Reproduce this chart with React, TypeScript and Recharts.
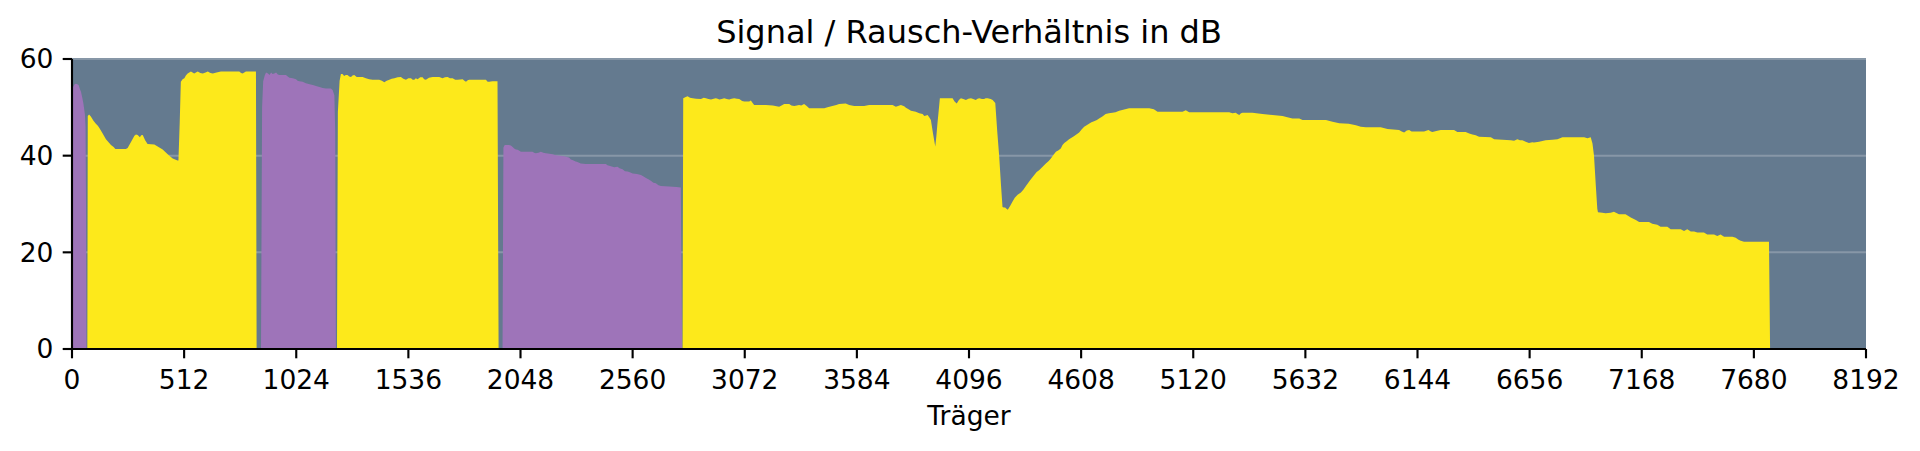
import { Area, CartesianGrid, ComposedChart, XAxis, YAxis } from "recharts";

const xTicks = [
  0, 512, 1024, 1536, 2048, 2560, 3072, 3584, 4096, 4608, 5120, 5632, 6144,
  6656, 7168, 7680, 8192,
];
const yTicks = [0, 20, 40, 60];

// Downstream bands (yellow): carrier index and SNR in dB
const downCarriers = [
  70, 72, 78, 86, 98, 109, 118, 125, 140, 155, 167, 178, 190, 198, 246, 254,
  270, 285, 292, 300, 310, 316, 323, 334, 345, 376, 395, 414, 437, 450, 460,
  482, 486, 492, 497, 505, 513, 520, 528, 543, 558, 574, 586, 597, 610, 620,
  632, 643, 660, 680, 764, 772, 779, 794, 840, 843,
  1210, 1214, 1222, 1228, 1235, 1243, 1250, 1258, 1266, 1274, 1281, 1289, 1300,
  1312, 1327, 1342, 1357, 1373, 1403, 1415, 1426, 1437, 1449, 1460, 1472, 1487,
  1502, 1513, 1525, 1536, 1548, 1556, 1563, 1570, 1578, 1590, 1601, 1608, 1616,
  1630, 1647, 1677, 1692, 1703, 1715, 1726, 1738, 1750, 1761, 1784, 1792, 1799,
  1807, 1814, 1890, 1898, 1905, 1920, 1943, 1948,
  2788, 2791, 2800, 2811, 2822, 2834, 2850, 2872, 2885, 2895, 2906, 2918, 2930,
  2940, 2948, 2956, 2967, 2978, 2990, 3001, 3012, 3024, 3036, 3047, 3060, 3070,
  3092, 3100, 3108, 3115, 3168, 3200, 3229, 3240, 3252, 3275, 3285, 3298, 3310,
  3320, 3330, 3343, 3355, 3366, 3435, 3450, 3472, 3490, 3503, 3533, 3549, 3572,
  3595, 3617, 3640, 3747, 3762, 3785, 3800, 3808, 3820, 3831, 3853, 3869, 3884,
  3892, 3900, 3907, 3915, 3922, 3932, 3942, 3947, 3952, 3958, 3963, 4021, 4030,
  4040, 4050, 4059, 4070, 4082, 4093, 4105, 4115, 4127, 4135, 4143, 4155, 4165,
  4172, 4181, 4195, 4204, 4216, 4225, 4234, 4242, 4249, 4255, 4261, 4267, 4273,
  4285, 4295, 4305, 4318, 4333, 4345, 4356, 4375, 4394, 4405, 4416, 4430, 4447,
  4460, 4470, 4482, 4493, 4505, 4515, 4523, 4531, 4542, 4553, 4575, 4599, 4610,
  4622, 4633, 4644, 4655, 4667, 4680, 4690, 4705, 4720, 4735, 4751, 4765, 4782,
  4800, 4827, 4919, 4940, 4957, 5071, 5086, 5101, 5200, 5284, 5299, 5314, 5322,
  5330, 5338, 5345, 5390, 5436, 5482, 5528, 5545, 5573, 5604, 5619, 5726, 5756,
  5787, 5830, 5863, 5885, 5908, 5976, 6007, 6060, 6072, 6083, 6095, 6106, 6117,
  6128, 6174, 6194, 6205, 6212, 6230, 6250, 6311, 6326, 6364, 6380, 6395, 6410,
  6425, 6479, 6494, 6570, 6585, 6600, 6612, 6623, 6638, 6653, 6668, 6676, 6699,
  6729, 6760, 6783, 6806, 6905, 6920, 6935, 6943, 6950, 6958, 6965, 6968, 6988,
  7003, 7026, 7041, 7064, 7094, 7118, 7141, 7156, 7201, 7216, 7239, 7254, 7285,
  7300, 7346, 7361, 7376, 7392, 7407, 7422, 7452, 7467, 7498, 7513, 7528, 7544,
  7582, 7597, 7610, 7620, 7635, 7749, 7754,
];
const downSnr = [
  0, 48.2, 48.5, 48.1, 47.2, 46.6, 46.2, 45.7, 44.6, 43.4, 42.8, 42.2, 41.8,
  41.4, 41.4, 41.6, 42.9, 44.1, 44.4, 44.3, 43.8, 44.2, 44.3, 43.2, 42.4, 42.3,
  41.8, 41.3, 40.3, 39.8, 39.4, 39.0, 39.0, 47.0, 55.3, 55.8, 56.0, 56.6, 57.0,
  57.4, 57.0, 57.4, 57.1, 57.0, 57.2, 57.4, 57.1, 57.0, 57.2, 57.4, 57.4, 57.1,
  57.0, 57.4, 57.4, 0,
  0, 49, 55.5, 56.9, 56.9, 56.5, 56.7, 56.7, 56.4, 56.3, 56.6, 56.7, 56.3, 56.3,
  56.3, 56.0, 55.8, 55.7, 55.7, 55.5, 55.2, 55.5, 55.7, 55.9, 56.0, 56.2, 56.3,
  55.9, 55.7, 56.0, 56.0, 55.7, 55.7, 56.0, 55.8, 56.2, 56.2, 55.8, 55.7, 56.1,
  56.3, 56.3, 56.0, 56.2, 56.3, 56.0, 56.0, 55.7, 55.7, 55.8, 55.5, 55.3, 55.6,
  55.7, 55.7, 55.3, 55.3, 55.4, 55.4, 0,
  0, 51.9, 52.1, 52.3, 52.0, 51.9, 51.8, 51.7, 52.0, 51.9, 51.7, 51.6, 51.8,
  51.9, 51.8, 51.6, 51.7, 51.9, 51.7, 51.6, 51.8, 51.9, 51.8, 51.7, 51.3, 51.2,
  51.2, 51.4, 50.9, 50.5, 50.5, 50.4, 50.1, 50.4, 50.7, 50.7, 50.4, 50.3, 50.4,
  50.5, 50.4, 50.7, 50.3, 49.8, 49.8, 50.0, 50.3, 50.5, 50.7, 50.8, 50.5, 50.3,
  50.3, 50.3, 50.5, 50.5, 50.1, 50.5, 50.2, 49.9, 49.6, 49.3, 49.1, 48.8, 48.6,
  48.2, 48.3, 48.4, 47.9, 47.4, 44.5, 41.9, 44.0, 46.7, 49.5, 51.9, 51.9, 51.2,
  50.8, 51.5, 51.9, 51.7, 51.5, 51.8, 51.9, 51.7, 51.5, 51.8, 51.9, 51.7, 51.7,
  51.9, 51.9, 51.7, 51.5, 50.9, 45.0, 39.8, 34.0, 29.4, 29.3, 29.3, 29.0, 28.8,
  29.7, 30.5, 31.3, 31.9, 32.4, 33.0, 33.7, 34.9, 36.0, 36.6, 37.0, 37.6, 38.4,
  38.9, 39.4, 40.2, 40.8, 41.1, 41.5, 42.2, 42.6, 43.0, 43.4, 44.0, 44.8, 45.4,
  46.0, 46.3, 46.6, 46.9, 47.1, 47.4, 47.7, 48.1, 48.6, 48.8, 48.9, 49.0, 49.3,
  49.5, 49.8, 49.8, 49.6, 49.1, 49.1, 49.4, 49.0, 49.0, 49.0, 48.8, 48.9, 48.6,
  48.4, 48.8, 48.9, 48.9, 48.6, 48.4, 48.2, 48.0, 47.7, 47.7, 47.4, 47.4, 47.0,
  46.7, 46.6, 46.3, 46.0, 45.9, 45.9, 45.5, 45.3, 45.0, 44.8, 45.2, 45.3, 45.0,
  45.0, 45.0, 45.3, 45.0, 44.9, 45.1, 45.3, 45.3, 44.9, 44.9, 44.6, 44.4, 44.2,
  43.9, 43.8, 43.4, 43.2, 43.1, 43.4, 43.2, 43.2, 42.9, 42.6, 42.8, 42.7, 42.9,
  43.2, 43.3, 43.4, 43.8, 43.8, 43.6, 43.8, 42.5, 40.0, 34.0, 29.0, 28.3, 28.2,
  28.1, 28.2, 28.4, 27.9, 27.9, 27.2, 26.7, 26.3, 26.3, 25.9, 25.7, 25.3, 25.3,
  24.8, 24.8, 24.4, 24.8, 24.3, 24.3, 24.1, 24.1, 23.7, 23.7, 23.4, 23.7, 23.2,
  23.2, 23.0, 22.6, 22.4, 22.2, 22.2, 0,
];

// Upstream bands (purple)
const upCarriers = [
  0, 6, 12, 18, 24, 30, 36, 41, 47, 52, 56, 59, 62, 64, 66,
  863, 868, 873, 880, 886, 895, 902, 909, 916, 924, 932, 940, 947, 960, 977,
  985, 993, 1008, 1023, 1030, 1038, 1053, 1068, 1085, 1100, 1114, 1130, 1145,
  1160, 1182, 1190, 1198, 1202, 1205,
  1966, 1970, 1976, 1982, 1995, 2004, 2012, 2019, 2027, 2035, 2050, 2080, 2103,
  2110, 2118, 2130, 2141, 2152, 2164, 2180, 2194, 2209, 2230, 2247, 2260, 2270,
  2278, 2285, 2300, 2308, 2323, 2346, 2438, 2445, 2453, 2476, 2491, 2500, 2514,
  2525, 2537, 2550, 2560, 2580, 2598, 2610, 2621, 2632, 2643, 2655, 2666, 2678,
  2689, 2727, 2760, 2780, 2786,
];
const upSnr = [
  53.8, 54.3, 54.8, 54.9, 54.8, 54.6, 53.8, 53.2, 52.0, 50.8, 49.5, 48.5, 46.0,
  30.0, 0,
  0, 50.0, 55.4, 56.6, 57.2, 57.0, 56.7, 57.2, 56.9, 57.0, 57.2, 56.8, 56.7,
  56.7, 56.7, 56.4, 56.1, 56.0, 55.8, 55.5, 55.4, 55.3, 55.0, 54.8, 54.6, 54.4,
  54.2, 54.0, 53.9, 53.9, 53.6, 52.5, 45.0, 0,
  0, 41.7, 42.2, 42.2, 42.2, 42.1, 41.8, 41.5, 41.3, 41.2, 40.8, 40.8, 40.8,
  40.6, 40.5, 40.6, 40.8, 40.6, 40.5, 40.4, 40.3, 40.1, 40.0, 39.9, 39.7, 39.6,
  39.2, 39.1, 38.8, 38.7, 38.4, 38.3, 38.3, 38.0, 37.9, 37.6, 37.7, 37.4, 37.2,
  36.8, 36.7, 36.5, 36.3, 36.2, 36.0, 35.7, 35.4, 35.1, 34.8, 34.4, 34.3, 33.9,
  33.7, 33.6, 33.5, 33.4, 0,
];

type Row = { carrier: number; down: number | null; up: number | null };

const rows: Row[] = [
  ...downCarriers.map((c, i) => ({ carrier: c, down: downSnr[i], up: null })),
  ...upCarriers.map((c, i) => ({ carrier: c, down: null, up: upSnr[i] })),
].sort((a, b) => a.carrier - b.carrier);

const font = "DejaVu Sans";
const tickStyle = { fontFamily: font, fontSize: 26.5, fill: "#000" };
const spine = { stroke: "#000", strokeWidth: 2.13 };

export default function App() {
  return (
    <div
      style={{
        position: "absolute",
        left: 0,
        top: 0,
        width: 1920,
        height: 451,
        background: "#fff",
      }}
    >
      <ComposedChart
        width={1920}
        height={451}
        data={rows}
        margin={{ top: 59, right: 54, bottom: 0, left: 0 }}
      >
        <CartesianGrid
          vertical={false}
          fill="#647a8f"
          fillOpacity={1}
          stroke="#8797a7"
          strokeWidth={2}
        />
        <XAxis
          dataKey="carrier"
          type="number"
          domain={[0, 8192]}
          ticks={xTicks}
          allowDataOverflow
          height={102}
          tick={tickStyle}
          tickSize={9.3}
          tickMargin={11.5}
          tickLine={spine}
          axisLine={spine}
        />
        <XAxis
          xAxisId="top"
          orientation="top"
          dataKey="carrier"
          type="number"
          domain={[0, 8192]}
          height={0}
          tick={false}
          tickLine={false}
          axisLine={spine}
        />
        <YAxis
          type="number"
          domain={[0, 60]}
          ticks={yTicks}
          width={72}
          tick={tickStyle}
          tickSize={9.3}
          tickMargin={9.3}
          tickLine={spine}
          axisLine={spine}
        />
        <YAxis
          yAxisId="right"
          orientation="right"
          type="number"
          domain={[0, 60]}
          width={0}
          tick={false}
          tickLine={false}
          axisLine={spine}
        />
        <Area
          dataKey="up"
          type="linear"
          fill="#9e74b9"
          fillOpacity={1}
          stroke="none"
          baseValue={0}
          dot={false}
          activeDot={false}
          connectNulls={false}
          isAnimationActive={false}
        />
        <Area
          dataKey="down"
          type="linear"
          fill="#fde91b"
          fillOpacity={1}
          stroke="none"
          baseValue={0}
          dot={false}
          activeDot={false}
          connectNulls={false}
          isAnimationActive={false}
        />
      </ComposedChart>
      <svg
        width={1920}
        height={451}
        style={{ position: "absolute", left: 0, top: 0, pointerEvents: "none" }}
      >
        <text
          x={969}
          y={42.5}
          textAnchor="middle"
          fontFamily={font}
          fontSize={32}
          fill="#000"
        >
          Signal / Rausch-Verhältnis in dB
        </text>
        <text
          x={969}
          y={425}
          textAnchor="middle"
          fontFamily={font}
          fontSize={26.5}
          fill="#000"
        >
          Träger
        </text>
      </svg>
    </div>
  );
}
